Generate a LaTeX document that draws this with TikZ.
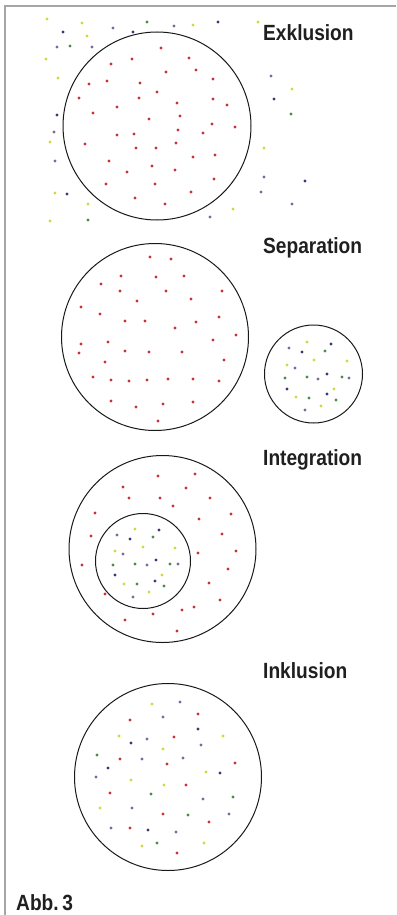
\documentclass[tikz,border=0pt]{standalone}
\usepackage{fontspec}
\newfontfamily\labelfont{Liberation Sans}[FakeStretch=0.87]
\definecolor{dotred}{HTML}{C8303C}
\definecolor{dotyellow}{HTML}{D6D63C}
\definecolor{dotblue}{HTML}{38387A}
\definecolor{dotgreen}{HTML}{4A8A4A}
\definecolor{dotpurple}{HTML}{7A6A9A}
\begin{document}
\begin{tikzpicture}[x=1pt,y=-1pt,
    ring/.style={draw=black!90,line width=1pt},
    frame/.style={draw=black!35,line width=1.3pt},
    caption/.style={anchor=base west,inner sep=0pt,font=\labelfont\bfseries\fontsize{22}{22}\selectfont,text=black!88},
    R/.style={fill=dotred},Y/.style={fill=dotyellow},B/.style={fill=dotblue},
    G/.style={fill=dotgreen},P/.style={fill=dotpurple}]
\useasboundingbox (0,0) rectangle (396,915);
\draw[frame] (5,915) -- (5,6) -- (396,6);
\coordinate (Exk) at (157,126);
\coordinate (SepA) at (155,337);
\coordinate (SepB) at (313.5,374);
\coordinate (IntA) at (162.5,549);
\coordinate (IntB) at (143,561);
\coordinate (Ink) at (168,777);
\draw[ring] (Exk) circle (94pt);
\draw[ring] (SepA) circle (93.5pt);
\draw[ring] (SepB) circle (49pt);
\draw[ring] (IntA) circle (93.5pt);
\draw[ring] (IntB) circle (47.5pt);
\draw[ring] (Ink) circle (93.5pt);
\node[caption] (exklusion) at (263,41) {Exklusion};
\node[caption] (separation) at (263,253) {Separation};
\node[caption] (integration) at (263,465) {Integration};
\node[caption] (inklusion) at (263,678) {Inklusion};
\node[caption] (abb) at (16,910) {Abb.\,3};
\foreach \p in {(47,19),(82,23),(87,36),(193,25),(258,22),(46,59),(58,78),(292,89),(50,142),(264,148),(55,193),(88,204),(233,209),(50,221),
    (307,342),(314,360),(347,361),(287,365),(334,389),(296,397),(321,406),
    (135,529),(143,547),(175,548),(115,551),(162,575),(124,584),(149,592),
    (152,704),(119,736),(223,736),(163,749),(206,772),(131,780),(164,785),(100,808),(142,846),(204,843)}
    \fill[Y] \p circle (1.6pt);
\foreach \p in {(63,32),(133,32),(218,22),(274,99),(57,115),(305,181),(67,194),
    (331,344),(302,352),(327,374),(287,389),(327,394),
    (159,530),(130,539),(156,560),(115,575),(155,581),
    (198,729),(131,743),(108,768),(220,773),(148,830)}
    \fill[B] \p circle (1.6pt);
\foreach \p in {(147,22),(70,46),(291,114),(88,220),
    (325,351),(285,378),(307,377),(342,377),(309,398),(336,400),
    (153,537),(113,565),(135,564),(170,564),(137,584),(164,586),
    (97,755),(151,794),(233,797),(188,815),(157,843)}
    \fill[G] \p circle (1.6pt);
\foreach \p in {(113,28),(174,26),(57,47),(92,47),(271,76),(54,132),(55,161),(264,177),(261,192),(292,204),(210,217),
    (289,348),(295,368),(318,379),(349,378),(305,410),
    (117,535),(123,554),(147,565),(178,564),(133,597),
    (180,702),(163,717),(147,739),(201,745),(142,759),(183,758),(96,777),(203,799),(132,808),(229,814),(111,828),(176,832)}
    \fill[P] \p circle (1.6pt);
\foreach \p in {(161,48),(132,59),(189,58),(111,64),(166,72),(196,70),(107,81),(89,84),(140,83),(213,79),(157,92),(79,98),(139,98),(213,99),
    (177,103),(227,105),(117,107),(93,113),(180,116),(149,119),(212,124),(235,127),(178,130),(203,133),(117,135),(134,134),(85,144),(176,143),
    (136,148),(156,148),(215,155),(193,157),(109,161),(152,166),(127,172),(175,170),(214,179),(106,184),(155,184),(191,192),(135,198),(165,204),
    (150,257),(171,259),(121,276),(156,277),(184,276),(101,284),(120,291),(166,291),(222,291),(137,301),(191,299),(81,307),(100,314),(219,317),
    (125,321),(145,321),(196,322),(175,328),(236,335),(108,342),(213,340),(81,344),(79,353),(125,351),(149,352),(182,352),(224,360),(105,362),
    (93,377),(111,380),(129,381),(147,380),(168,379),(193,379),(219,381),(111,401),(136,407),(163,404),(193,402),(158,421),
    (158,476),(195,474),(123,487),(186,488),(129,498),(160,498),(210,498),(173,506),(95,513),(231,514),(199,519),(222,534),(91,536),
    (236,551),(198,553),(82,565),(228,569),(209,583),(105,594),(220,600),(182,610),(194,607),(153,614),(125,620),(177,631),
    (198,714),(130,720),(174,737),(120,759),(235,763),(167,764),(186,785),(110,793),(163,814),(209,822),(130,828),(177,853)}
    \fill[R] \p circle (1.6pt);
\end{tikzpicture}
\end{document}
